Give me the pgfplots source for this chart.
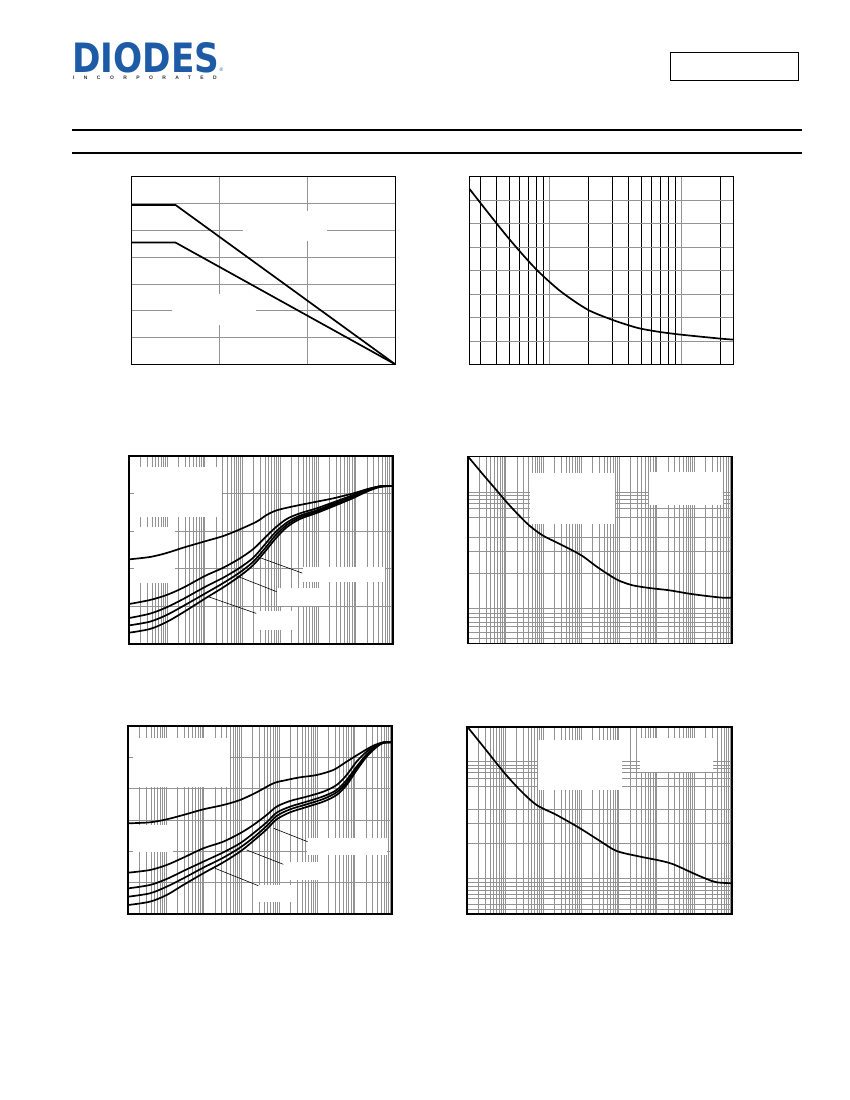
\documentclass[border=0pt]{standalone}
\usepackage{graphicx}
\usepackage{fontspec}
\setmainfont{Liberation Sans}
\newfontfamily\logofont{DejaVu Sans}
\usepackage{pgfplots}
\pgfplotsset{compat=1.18}
\definecolor{diodesblue}{HTML}{1D5BA6}
\tikzset{leader/.style={black, line width=0.6pt}}
\pgfplotsset{
  base/.style={anchor=south west, scale only axis,
    axis line style={line width=1.8pt},
    tick style={draw=none}, xticklabels={}, yticklabels={},
    grid style={line width=0.7pt, color=gray!85},
    major grid style={line width=0.7pt, color=gray!85},
    minor grid style={line width=0.7pt, color=gray!85},
    xmajorgrids, ymajorgrids},
  logseven/.style={xmin=1e-5, xmax=100,
    xtick={1e-5,1e-4,1e-3,1e-2,1e-1,1,10,100},
    minor xtick={2e-5,3e-5,4e-5,5e-5,6e-5,7e-5,8e-5,9e-5,
                 2e-4,3e-4,4e-4,5e-4,6e-4,7e-4,8e-4,9e-4,
                 2e-3,3e-3,4e-3,5e-3,6e-3,7e-3,8e-3,9e-3,
                 2e-2,3e-2,4e-2,5e-2,6e-2,7e-2,8e-2,9e-2,
                 0.2,0.3,0.4,0.5,0.6,0.7,0.8,0.9,
                 2,3,4,5,6,7,8,9,20,30,40,50,60,70,80,90},
    xminorgrids},
  curve/.style={black, line width=1.7pt, mark=none},
  sm/.style={curve, smooth, tension=0.5}
}
\begin{document}
\begin{tikzpicture}
\path[use as bounding box] (0pt,0pt) rectangle (850pt,1100pt);
% header
\begin{scope}[x=1pt,y=1pt]
\node[anchor=south west, inner sep=0, text=diodesblue] at (72,1027)
  {\resizebox{147pt}{30pt}{\logofont\bfseries DIODES}};
\node[anchor=south west, inner sep=0, text=diodesblue] at (219.5,1028)
  {\fontsize{5}{5}\selectfont ®};
\node[anchor=south west, inner sep=0, text=black!80] at (73,1020)
  {\fontsize{5}{5}\selectfont\bfseries\addfontfeature{LetterSpace=188}INCORPORATED};
\draw[line width=0.9pt] (670.5,1020) rectangle (798,1048);
\draw[line width=1.8pt] (72,970) -- (802,970);
\draw[line width=1.8pt] (72,947) -- (802,947);
\end{scope}

% ---------- Plot 1 ----------
\begin{axis}[base, at={(131.5pt,735.5pt)}, width=264pt, height=188pt,
  xmin=0, xmax=150, ymin=0, ymax=350,
  xtick={0,50,100,150}, ytick={0,50,100,150,200,250,300,350}]
\fill[white] (rel axis cs:0.423,0.657) rectangle (rel axis cs:0.739,0.816);
\fill[white] (rel axis cs:0.152,0.210) rectangle (rel axis cs:0.472,0.373);
\addplot[curve] coordinates {(0,297) (25,297) (150,0)};
\addplot[curve] coordinates {(0,227) (25,227) (150,0)};
\end{axis}

% ---------- Plot 2 ----------
\begin{axis}[base, xmode=log, at={(469.5pt,735.5pt)}, width=264pt, height=188pt,
  xmin=2.5, xmax=250, ymin=0, ymax=8,
  xtick={10,100}, minor xtick={3,4,5,6,7,8,9,20,30,40,50,60,70,80,90,200},
  xminorgrids, ytick={0,1,2,3,4,5,6,7,8},
  minor grid style={line width=0.6pt, color=black}]
\addplot[sm] coordinates {(2.5,7.47) (3.0,6.90) (4.0,6.01) (5.0,5.34) (6.0,4.82)
  (7.0,4.40) (8.0,4.05) (9.85,3.57) (12.8,3.03) (19.7,2.33) (29.9,1.91)
  (40.6,1.66) (50,1.52) (70,1.38) (100,1.27) (200,1.10) (250,1.06)};
\end{axis}

% ---------- Plot 3 ----------
\begin{axis}[base, xmode=log, logseven, at={(129.3pt,456pt)}, width=264pt, height=188pt,
  ymin=0, ymax=5, ytick={0,1,2,3,4,5}]
\fill[white] (rel axis cs:0.016,0.676) rectangle (rel axis cs:0.350,0.941);
\fill[white] (rel axis cs:0.016,0.324) rectangle (rel axis cs:0.173,0.622);
\fill[white] (rel axis cs:0.658,0.330) rectangle (rel axis cs:0.969,0.412);
\fill[white] (rel axis cs:0.559,0.202) rectangle (rel axis cs:0.730,0.298);
\fill[white] (rel axis cs:0.476,0.074) rectangle (rel axis cs:0.624,0.176);
\draw[leader] (rel axis cs:0.4826,0.4654) -- (rel axis cs:0.6553,0.3771);
\draw[leader] (rel axis cs:0.4068,0.3617) -- (rel axis cs:0.5583,0.2782);
\draw[leader] (rel axis cs:0.3001,0.2512) -- (rel axis cs:0.4807,0.1628);
\addplot[sm] coordinates {(1e-5,2.252) (3.53e-5,2.314) (9.77e-5,2.420) (2.70e-4,2.562)
  (1.01e-3,2.730) (3.11e-3,2.872) (8.59e-3,3.050) (2.38e-2,3.254) (4.38e-2,3.431)
  (8.07e-2,3.555) (0.2233,3.661) (0.757,3.768) (2.565,3.874) (8.71,4.007)
  (19.6,4.113) (44.4,4.193) (100,4.202)};
\addplot[sm] coordinates {(1e-5,1.064) (3.53e-5,1.170) (9.77e-5,1.303) (2.70e-4,1.498)
  (1.01e-3,1.809) (3.11e-3,2.030) (8.59e-3,2.278) (1.94e-2,2.527) (3.96e-2,2.828)
  (7.28e-2,3.085) (0.1486,3.324) (0.335,3.475) (0.927,3.608) (2.565,3.768)
  (8.71,3.963) (19.6,4.105) (44.4,4.193) (100,4.202)};
\addplot[sm] coordinates {(1e-5,0.691) (3.53e-5,0.807) (9.77e-5,0.975) (2.70e-4,1.197)
  (1.01e-3,1.516) (3.11e-3,1.764) (8.59e-3,2.030) (1.94e-2,2.296) (3.96e-2,2.651)
  (7.28e-2,2.961) (0.1486,3.227) (0.335,3.413) (0.927,3.555) (2.565,3.732)
  (8.71,3.936) (19.6,4.087) (44.4,4.193) (100,4.202)};
\addplot[sm] coordinates {(1e-5,0.496) (3.53e-5,0.594) (9.77e-5,0.771) (2.70e-4,1.011)
  (1.01e-3,1.339) (3.11e-3,1.622) (8.59e-3,1.906) (1.94e-2,2.190) (3.96e-2,2.544)
  (7.28e-2,2.872) (0.1486,3.165) (0.335,3.369) (0.927,3.520) (2.565,3.697)
  (8.71,3.910) (19.6,4.069) (44.4,4.184) (100,4.202)};
\addplot[sm] coordinates {(1e-5,0.301) (3.53e-5,0.399) (9.77e-5,0.585) (2.70e-4,0.842)
  (1.01e-3,1.206) (3.11e-3,1.507) (8.59e-3,1.809) (1.94e-2,2.101) (3.96e-2,2.456)
  (7.28e-2,2.784) (0.1486,3.103) (0.335,3.324) (0.927,3.484) (2.565,3.661)
  (8.71,3.883) (19.6,4.051) (44.4,4.176) (100,4.202)};
\end{axis}

% ---------- Plot 4 ----------
\begin{axis}[base, xmode=log, logseven, at={(468pt,456.5pt)}, width=264pt, height=187pt,
  ymin=0, ymax=187,
  ytick={5.5,11.5,17.5,21.5,25.8,30.5,35.5,69.8,92.5,106.5,126.5,134.8,140.5,144.2,147.8,151.5}]
\fill[white] (rel axis cs:0.235,0.637) rectangle (rel axis cs:0.557,0.910);
\fill[white] (rel axis cs:0.687,0.741) rectangle (rel axis cs:0.967,0.919);
\addplot[sm] coordinates {(1e-5,187) (2.40e-5,169.8) (5.43e-5,154.2) (9.6e-5,143.2)
  (1.84e-4,131.5) (4.16e-4,118.2) (9.4e-4,108.2) (2.12e-3,101.5) (4.80e-3,94.8)
  (1.08e-2,87.5) (2.45e-2,77.5) (5.53e-2,68.5) (0.102,62.8) (0.231,58.2)
  (0.638,55.5) (2.17,53.2) (7.36,49.8) (25.0,47.2) (56.5,45.8) (100,45.8)};
\end{axis}

% ---------- Plot 5 ----------
\begin{axis}[base, xmode=log, logseven, at={(128.3pt,186pt)}, width=264pt, height=188pt,
  ymin=0, ymax=6, ytick={0,1,2,3,4,5,6}]
\fill[white] (rel axis cs:0.016,0.676) rectangle (rel axis cs:0.385,0.936);
\fill[white] (rel axis cs:0.016,0.330) rectangle (rel axis cs:0.169,0.473);
\fill[white] (rel axis cs:0.676,0.314) rectangle (rel axis cs:0.979,0.404);
\fill[white] (rel axis cs:0.586,0.181) rectangle (rel axis cs:0.756,0.277);
\fill[white] (rel axis cs:0.491,0.064) rectangle (rel axis cs:0.639,0.154);
\draw[leader] (rel axis cs:0.5504,0.4559) -- (rel axis cs:0.6792,0.3846);
\draw[leader] (rel axis cs:0.4485,0.3404) -- (rel axis cs:0.5871,0.2644);
\draw[leader] (rel axis cs:0.3284,0.2431) -- (rel axis cs:0.4924,0.1505);
\addplot[sm] coordinates {(1e-5,2.894) (3.75e-5,2.926) (1.04e-4,3.021) (2.87e-4,3.160)
  (9.74e-4,3.340) (3.30e-3,3.479) (9.14e-3,3.638) (2.53e-2,3.883) (7.0e-2,4.170)
  (0.158,4.277) (0.356,4.362) (0.986,4.436) (2.73,4.596) (6.15,4.862)
  (13.9,5.128) (31.4,5.372) (57.8,5.479) (100,5.479)};
\addplot[sm] coordinates {(1e-5,1.319) (3.75e-5,1.404) (1.04e-4,1.564) (2.87e-4,1.798)
  (9.74e-4,2.096) (3.30e-3,2.309) (9.14e-3,2.574) (2.06e-2,2.840) (4.66e-2,3.160)
  (8.57e-2,3.426) (0.194,3.606) (0.535,3.745) (1.48,3.904) (3.34,4.117)
  (6.15,4.436) (11.3,4.862) (20.9,5.181) (38.5,5.394) (57.8,5.479) (100,5.479)};
\addplot[sm] coordinates {(1e-5,0.819) (3.75e-5,0.926) (1.04e-4,1.117) (2.87e-4,1.372)
  (9.74e-4,1.670) (3.30e-3,1.968) (9.14e-3,2.255) (2.06e-2,2.574) (4.66e-2,2.926)
  (8.57e-2,3.234) (0.194,3.426) (0.535,3.585) (1.48,3.755) (3.34,3.957)
  (6.15,4.277) (11.3,4.702) (20.9,5.096) (38.5,5.372) (57.8,5.468) (100,5.479)};
\addplot[sm] coordinates {(1e-5,0.553) (3.75e-5,0.660) (1.04e-4,0.872) (2.87e-4,1.138)
  (9.74e-4,1.479) (3.30e-3,1.798) (9.14e-3,2.117) (2.06e-2,2.436) (4.66e-2,2.809)
  (8.57e-2,3.128) (0.194,3.340) (0.535,3.500) (1.48,3.670) (3.34,3.883)
  (6.15,4.191) (11.3,4.649) (20.9,5.064) (38.5,5.351) (57.8,5.468) (100,5.479)};
\addplot[sm] coordinates {(1e-5,0.287) (3.75e-5,0.394) (1.04e-4,0.606) (2.87e-4,0.926)
  (9.74e-4,1.298) (3.30e-3,1.649) (9.14e-3,1.989) (2.06e-2,2.330) (4.66e-2,2.702)
  (8.57e-2,3.021) (0.194,3.245) (0.535,3.415) (1.48,3.585) (3.34,3.798)
  (6.15,4.117) (11.3,4.585) (20.9,5.021) (38.5,5.330) (57.8,5.457) (100,5.479)};
\end{axis}

% ---------- Plot 6 ----------
\begin{axis}[base, xmode=log, logseven, at={(467.3pt,185.7pt)}, width=265pt, height=187.6pt,
  ymin=0, ymax=187.6,
  ytick={5.3,10,16,20,24.3,28.3,31.7,36,71,91,105.3,127.7,136,142,146,149.3,152.7}]
\fill[white] (rel axis cs:0.268,0.663) rectangle (rel axis cs:0.583,0.929);
\fill[white] (rel axis cs:0.652,0.760) rectangle (rel axis cs:0.928,0.938);
\addplot[sm] coordinates {(1e-5,187.6) (2.65e-5,167.7) (8.93e-5,142.7) (2.46e-4,124.3)
  (6.78e-4,109.3) (2.29e-3,99.3) (9.46e-3,86) (3.20e-2,73.3) (8.81e-2,63.3)
  (0.364,57.7) (1.23,53.7) (2.77,50) (9.33,41) (21.0,35.3) (38.6,32) (100,31)};
\end{axis}
\end{tikzpicture}
\end{document}
